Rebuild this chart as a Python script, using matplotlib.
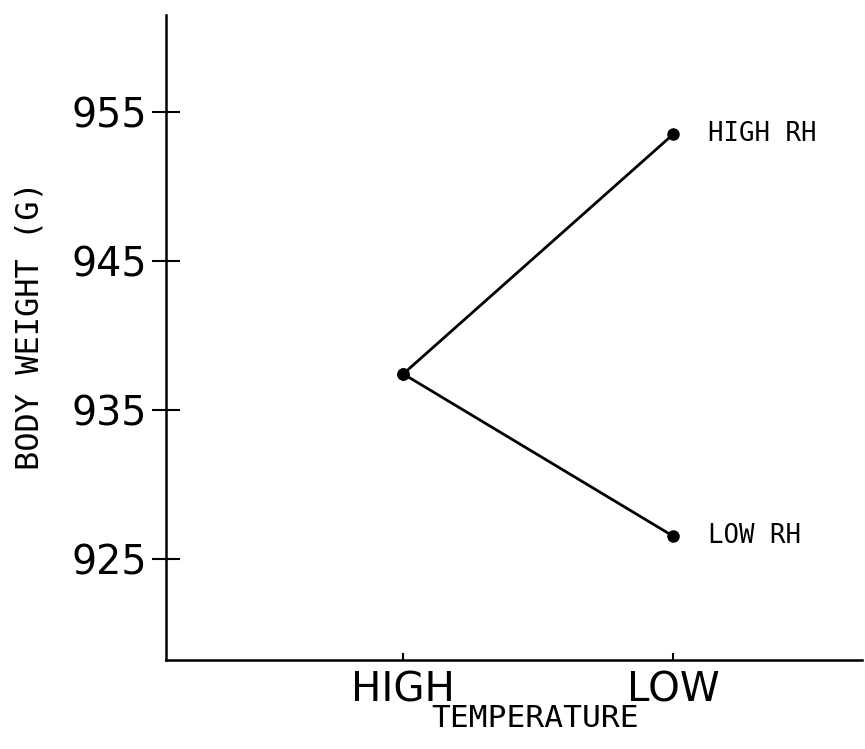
import matplotlib
matplotlib.use("Agg")
import matplotlib.pyplot as plt

categories = ["HIGH", "LOW"]
x_pos = [1, 2]
high_rh = [937.4, 953.5]
low_rh = [937.4, 926.5]
series_labels = ["HIGH RH", "LOW RH"]
yticks = [925, 935, 945, 955]

fig = plt.figure(figsize=(8.65, 7.49), dpi=100)
ax = fig.add_axes([0.192, 0.119, 0.805, 0.861])

for vals, lab in zip([high_rh, low_rh], series_labels):
    ax.plot(x_pos, vals, color="black", lw=2.0, marker="o", ms=8, solid_capstyle="round")
    ax.text(x_pos[-1] + 0.13, vals[-1], lab, fontsize=18.5, family="DejaVu Sans Mono",
            va="center", ha="left")

ax.set_xlim(0.122, 2.70)
ax.set_ylim(918.2, 961.5)
ax.set_xticks(x_pos)
ax.set_xticklabels(categories, fontsize=29, family="DejaVu Sans")
ax.set_yticks(yticks)
ax.set_yticklabels([str(v) for v in yticks], fontsize=28.5, family="DejaVu Sans")
ax.tick_params(axis="y", direction="inout", length=20, width=1.5, pad=4)
ax.tick_params(axis="x", direction="in", length=5, width=1.5, pad=8)
for s in ["top", "right"]:
    ax.spines[s].set_visible(False)
for s in ["left", "bottom"]:
    ax.spines[s].set_linewidth(1.8)

ax.set_xlabel("TEMPERATURE", fontsize=22.5, family="DejaVu Sans Mono")
ax.xaxis.set_label_coords(0.53, -0.091)
ax.xaxis.label.set_va("center")
ax.set_ylabel("BODY WEIGHT (G)", fontsize=23, family="DejaVu Sans Mono")
ax.yaxis.set_label_coords(-0.195, 0.518)
ax.yaxis.label.set_va("center")

fig.savefig("out.png", dpi=100)
